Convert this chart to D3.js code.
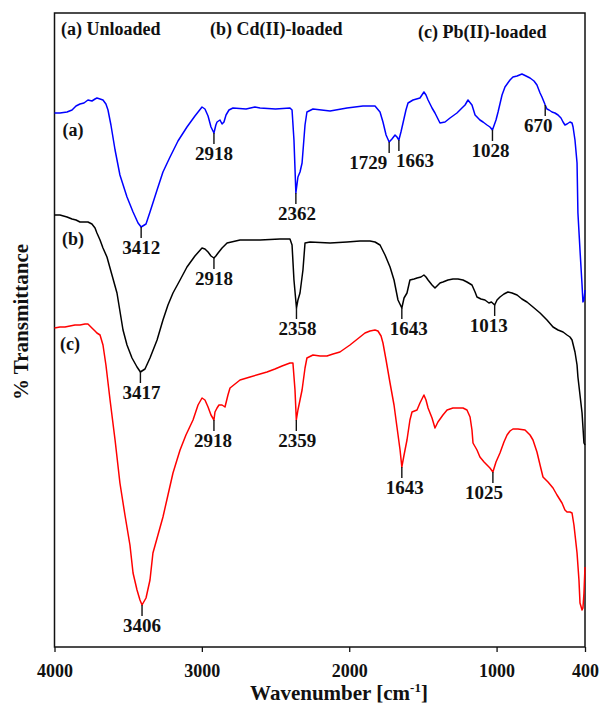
<!DOCTYPE html>
<html>
<head>
<meta charset="utf-8">
<script src="https://cdn.jsdelivr.net/npm/d3@7"></script>
<style>
  html, body { margin: 0; padding: 0; background: #fff; }
  svg text { font-family: "Liberation Serif", "Times New Roman", serif; font-weight: bold; fill: #111; }
</style>
</head>
<body>
<svg id="chart" width="600" height="705"></svg>
<script>
// FTIR spectra: [wavenumber (cm-1), transmittance (a.u., offset traces)]
const wavenumberTicks = [4000, 3000, 2000, 1000, 400];
const legendLabels = ["(a) Unloaded", "(b) Cd(II)-loaded", "(c) Pb(II)-loaded"];
const traceTags = ["(a)", "(b)", "(c)"];
const traceColors = ["#0000ff", "#000000", "#ff0000"];

const unloaded = [
  [4000,106.8],[3963,106.8],[3915,107.0],[3881,107.4],[3854,108.2],[3827,108.6],[3800,108.8],
  [3773,109.4],[3746,109.2],[3725,109.6],[3712,109.8],[3691,109.6],[3671,109.4],[3651,108.6],
  [3637,107.4],[3617,104.4],[3589,99.4],[3556,94.4],[3508,90.0],[3467,87.0],[3433,84.8],
  [3412,84.0],[3379,84.6],[3352,87.0],[3304,91.4],[3264,95.0],[3216,98.0],[3162,101.2],
  [3101,104.0],[3047,106.2],[2999,108.0],[2979,107.6],[2958,106.2],[2938,104.0],[2918,102.8],
  [2905,104.4],[2897,105.0],[2877,105.4],[2863,104.6],[2850,105.0],[2836,106.4],[2816,107.4],
  [2789,107.8],[2700,107.6],[2640,108.0],[2605,107.8],[2500,107.6],[2402,107.8],[2388,107.4],
  [2375,101.4],[2362,90.8],[2348,94.0],[2334,95.0],[2320,96.8],[2300,104.4],[2287,107.0],
  [2246,107.6],[2130,107.2],[2015,107.8],[1907,108.2],[1825,108.2],[1791,107.0],[1771,105.0],
  [1750,102.4],[1729,101.0],[1710,101.6],[1689,102.4],[1676,102.0],[1663,101.4],[1649,103.0],
  [1635,104.8],[1615,107.4],[1601,108.8],[1567,109.4],[1520,109.8],[1493,111.0],[1479,110.4],
  [1465,109.4],[1438,107.8],[1418,106.8],[1384,104.8],[1350,105.0],[1316,105.8],[1269,106.8],
  [1235,107.8],[1214,108.4],[1194,109.4],[1167,108.4],[1146,106.4],[1113,105.4],[1092,105.0],
  [1065,104.4],[1045,104.0],[1028,103.4],[1004,105.4],[990,107.0],[963,110.4],[943,112.0],
  [909,113.4],[889,114.0],[861,114.2],[828,114.6],[800,114.2],[773,113.8],[746,113.2],
  [726,112.4],[705,110.8],[692,110.0],[670,108.4],[658,107.6],[644,107.4],[624,107.0],
  [604,106.8],[583,106.4],[563,105.8],[549,105.0],[536,104.4],[522,104.6],[502,105.0],
  [488,104.8],[481,104.0],[468,101.4],[454,96.8],[448,86.8],[434,79.4],[420,72.4],
  [414,69.0],[407,69.4],[400,71.4]
];

const cdLoaded = [
  [4000,86.4],[3963,86.4],[3915,86.0],[3881,85.6],[3854,85.4],[3827,85.0],[3793,85.0],
  [3773,85.0],[3746,84.6],[3725,83.8],[3712,82.8],[3691,81.4],[3671,79.8],[3644,78.0],
  [3610,74.4],[3576,70.8],[3535,63.4],[3508,60.4],[3474,57.8],[3440,56.0],[3417,55.0],
  [3386,55.6],[3352,57.8],[3304,61.4],[3264,65.4],[3230,68.4],[3196,70.8],[3148,73.4],
  [3101,76.0],[3047,78.2],[2999,79.8],[2979,79.6],[2958,79.0],[2938,78.2],[2918,77.8],
  [2905,78.2],[2890,78.8],[2863,79.8],[2829,80.8],[2741,81.4],[2605,81.4],[2470,81.6],
  [2402,81.6],[2388,80.4],[2375,73.4],[2358,67.8],[2348,69.4],[2334,70.8],[2314,75.4],
  [2300,80.8],[2266,81.0],[2130,80.8],[2015,81.0],[1927,81.2],[1859,81.2],[1825,81.0],
  [1791,80.4],[1757,78.4],[1723,76.0],[1696,73.4],[1669,69.4],[1643,67.8],[1628,69.8],
  [1608,70.8],[1588,73.4],[1560,73.6],[1540,73.8],[1513,74.0],[1493,74.4],[1479,74.0],
  [1465,73.4],[1438,72.4],[1418,71.8],[1384,72.8],[1364,73.0],[1330,73.4],[1296,73.6],
  [1262,73.6],[1228,73.4],[1201,73.0],[1167,72.4],[1146,71.0],[1133,70.0],[1106,69.6],
  [1079,69.4],[1052,68.8],[1035,69.0],[1013,68.4],[997,69.4],[977,70.0],[950,70.6],
  [923,71.0],[895,70.8],[861,70.4],[828,69.6],[794,69.0],[753,68.0],[705,66.8],[658,65.4],
  [617,64.0],[583,63.4],[549,63.0],[522,62.4],[502,62.0],[488,61.4],[468,59.0],[454,56.4],
  [448,54.0],[434,50.4],[420,46.8],[407,40.8],[400,40.4]
];

const pbLoaded = [
  [4000,63.8],[3963,64.0],[3929,64.0],[3895,64.2],[3861,64.4],[3827,64.4],[3793,64.6],
  [3773,64.6],[3746,63.8],[3725,63.2],[3712,62.8],[3691,62.4],[3671,60.4],[3651,56.4],
  [3623,49.4],[3589,41.4],[3556,32.8],[3522,26.4],[3488,20.4],[3467,14.8],[3440,11.4],
  [3420,9.4],[3406,8.4],[3379,9.8],[3352,13.4],[3332,18.8],[3298,22.4],[3264,26.0],
  [3230,30.4],[3196,34.8],[3169,37.4],[3148,39.4],[3108,42.4],[3060,45.4],[3026,48.4],
  [2999,49.8],[2979,49.4],[2958,48.0],[2938,46.4],[2918,45.4],[2911,47.0],[2897,47.8],
  [2884,48.4],[2863,48.4],[2843,48.0],[2823,50.4],[2809,51.8],[2775,52.6],[2741,53.4],
  [2673,54.0],[2605,54.6],[2558,55.0],[2504,55.6],[2456,56.2],[2402,56.8],[2382,56.8],
  [2368,51.4],[2359,45.4],[2348,47.4],[2334,49.4],[2320,51.4],[2300,55.8],[2287,57.8],
  [2246,58.4],[2198,58.2],[2151,58.2],[2110,58.6],[2063,59.0],[1995,60.4],[1927,62.0],
  [1893,62.8],[1859,63.2],[1825,63.4],[1805,63.2],[1784,62.2],[1771,60.8],[1750,57.4],
  [1723,52.8],[1696,48.4],[1676,44.0],[1655,39.4],[1643,36.0],[1628,38.4],[1608,41.4],
  [1588,45.4],[1574,47.0],[1540,47.4],[1520,48.8],[1493,50.4],[1479,49.4],[1465,47.8],
  [1438,45.8],[1418,43.8],[1398,45.0],[1364,46.4],[1336,47.4],[1296,47.8],[1262,47.8],
  [1228,47.8],[1201,47.4],[1180,46.0],[1167,43.4],[1160,40.8],[1133,39.4],[1113,38.0],
  [1085,37.0],[1065,36.4],[1045,35.8],[1025,35.0],[1004,37.0],[977,38.8],[950,41.0],
  [929,42.4],[909,43.2],[889,43.6],[855,43.6],[807,43.4],[773,42.4],[753,41.4],[726,39.0],
  [705,36.4],[685,34.0],[651,33.0],[617,31.8],[590,30.4],[556,28.8],[536,27.4],[522,27.0],
  [502,27.0],[488,26.8],[475,24.4],[454,18.8],[441,13.4],[434,8.8],[420,7.4],[414,7.8],
  [407,10.8],[400,16.0]
];

// Band positions marked on each trace (cm-1)
const unloadedBands = [3412, 2918, 2362, 1729, 1663, 1028, 670];
const cdBands = [3417, 2918, 2358, 1643, 1013];
const pbBands = [3406, 2918, 2359, 1643, 1025];

// ---- layout ----
const W = 600, H = 705;
const plot = { left: 54.5, right: 585, top: 13, bottom: 647 };
const labelShift = [
  [0, 0, 1, -21, 16, -2, -7],
  [1, 0, 1, 7, -6],
  [0, -1, 1, 3, -9]
];
const tagPos = [[73, 136], [73, 245], [70, 350]];
const legendPos = [[61, 35], [210, 35], [418, 38]];

const svg = d3.select("#chart");

const x = d3.scaleLinear().domain([4000, 400]).range([plot.left, plot.right]);
const y = d3.scaleLinear().domain([0, 126.8]).range([plot.bottom, plot.top]);

// Frame
svg.append("rect")
  .attr("x", plot.left).attr("y", plot.top)
  .attr("width", plot.right - plot.left).attr("height", plot.bottom - plot.top)
  .attr("fill", "none").attr("stroke", "#111").attr("stroke-width", 1.5);

// Bottom axis
const axis = svg.append("g")
  .attr("transform", `translate(0,${plot.bottom})`)
  .call(d3.axisBottom(x).tickValues(wavenumberTicks).tickSize(5).tickSizeOuter(0).tickFormat(d3.format("d")));
axis.select(".domain").remove();
axis.selectAll(".tick line").attr("stroke", "#111").attr("stroke-width", 1.3);
axis.selectAll(".tick text")
  .attr("y", 17)
  .style("font-family", '"Liberation Serif", "Times New Roman", serif')
  .style("font-weight", "bold")
  .style("font-size", "18px")
  .attr("fill", "#111");

// Axis titles
const xt = svg.append("text")
  .attr("x", 339).attr("y", 700)
  .attr("text-anchor", "middle")
  .style("font-size", "21px");
xt.append("tspan").text("Wavenumber [cm");
xt.append("tspan").attr("dy", -8).style("font-size", "13px").text("-1");
xt.append("tspan").attr("dy", 8).text("]");

svg.append("text")
  .attr("transform", "translate(28,322) rotate(-90)")
  .attr("text-anchor", "middle")
  .style("font-size", "21px")
  .text("% Transmittance");

// Legend texts along the top
svg.selectAll("text.legend")
  .data(legendLabels)
  .join("text")
  .attr("class", "legend")
  .attr("x", (d, i) => legendPos[i][0])
  .attr("y", (d, i) => legendPos[i][1])
  .style("font-size", "18px")
  .text(d => d);

// Spectra
const spectra = [unloaded, cdLoaded, pbLoaded];
const bands = [unloadedBands, cdBands, pbBands];

const line = d3.line().x(d => x(d[0])).y(d => y(d[1]));

svg.selectAll("path.trace")
  .data(spectra)
  .join("path")
  .attr("class", "trace")
  .attr("d", line)
  .attr("fill", "none")
  .attr("stroke", (d, i) => traceColors[i])
  .attr("stroke-width", 1.5)
  .attr("stroke-linejoin", "round");

// Trace tags
svg.selectAll("text.tag")
  .data(traceTags)
  .join("text")
  .attr("class", "tag")
  .attr("x", (d, i) => tagPos[i][0])
  .attr("y", (d, i) => tagPos[i][1])
  .attr("text-anchor", "middle")
  .style("font-size", "18px")
  .text(d => d);

// Transmittance of a trace at a given wavenumber (linear between samples)
function valueAt(series, wn) {
  for (let i = 0; i < series.length - 1; i++) {
    const a = series[i], b = series[i + 1];
    if (a[0] >= wn && b[0] <= wn) {
      const t = a[0] === b[0] ? 0 : (a[0] - wn) / (a[0] - b[0]);
      return a[1] + t * (b[1] - a[1]);
    }
  }
  return series[series.length - 1][1];
}

// Band markers: short tick below the trace and the wavenumber label
const tickLen = 11, labelGap = 27;
bands.forEach((list, si) => {
  const g = svg.append("g");
  list.forEach((wn, k) => {
    const px = x(wn), py = y(valueAt(spectra[si], wn));
    g.append("line")
      .attr("x1", px).attr("x2", px)
      .attr("y1", py).attr("y2", py + tickLen)
      .attr("stroke", "#111").attr("stroke-width", 1.4);
    g.append("text")
      .attr("x", px + labelShift[si][k])
      .attr("y", py + labelGap)
      .attr("text-anchor", "middle")
      .style("font-size", "19px")
      .text(wn);
  });
});
</script>
</body>
</html>
